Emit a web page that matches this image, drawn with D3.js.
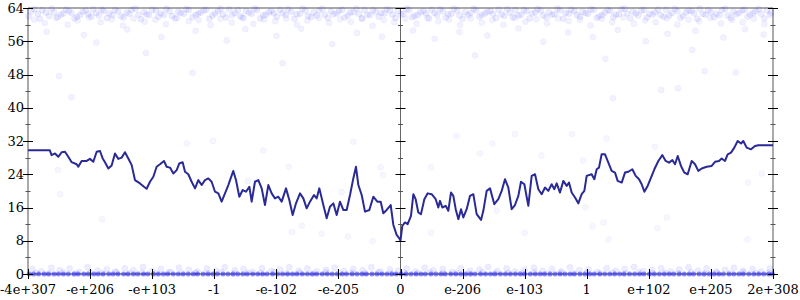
<!DOCTYPE html>
<html>
<head>
<meta charset="utf-8">
<script src="https://cdn.jsdelivr.net/npm/d3@7/dist/d3.min.js"></script>
<style>
body { margin: 0; background: #fff; }
text { font-family: "DejaVu Serif", "Liberation Serif", serif; font-size: 13px; fill: #000; }
</style>
</head>
<body>
<svg class="chart" width="800" height="300"></svg>
<script>
// x positions are in "tick units": -6 .. 6, one unit per labelled tick
var xTickLabels = ["-4e+307", "-e+206", "-e+103", "-1", "-e-102", "-e-205", "0",
  "e-206", "e-103", "1", "e+102", "e+205", "2e+308"];
var yTicks = [0, 8, 16, 24, 32, 40, 48, 56, 64];
var yMinorTicks = [4, 12, 20, 28, 36, 44, 52, 60];

// running mean line, negative side
var lineLeft = [[-6,29.8],[-5.65,29.8],[-5.62,28.6],[-5.565,29],[-5.512,28.2],[-5.458,29.3],[-5.404,29.4],[-5.351,28.2],[-5.297,26.9],[-5.216,26.4],[-5.19,25.8],[-5.136,27.2],[-5.055,27.2],[-5.002,27.7],[-4.948,27],[-4.894,29.4],[-4.84,29.6],[-4.797,27.8],[-4.76,26.9],[-4.706,25.4],[-4.653,26.1],[-4.599,29],[-4.545,27.7],[-4.491,28],[-4.438,29.3],[-4.384,27.8],[-4.33,26.2],[-4.277,22.6],[-4.196,21.8],[-4.132,21],[-4.089,20.5],[-4.035,22.2],[-3.981,23.4],[-3.928,25.8],[-3.874,26.4],[-3.81,27.2],[-3.767,25.8],[-3.713,25.6],[-3.659,24.2],[-3.605,25],[-3.563,26.6],[-3.509,26.9],[-3.471,24.6],[-3.418,24],[-3.364,22.2],[-3.31,20.6],[-3.257,22.6],[-3.203,21.4],[-3.149,22.6],[-3.095,23],[-3.042,22.2],[-2.988,19.8],[-2.934,19.4],[-2.881,17.4],[-2.827,19.4],[-2.773,21.4],[-2.736,23],[-2.693,24.8],[-2.65,22.6],[-2.596,18.6],[-2.542,20.2],[-2.489,19.8],[-2.435,21],[-2.397,17.4],[-2.344,22.2],[-2.29,22.6],[-2.236,20.6],[-2.183,16.6],[-2.129,21.4],[-2.075,19.4],[-2.022,18.2],[-1.968,18.6],[-1.914,17.4],[-1.844,20.6],[-1.791,17.8],[-1.737,14.2],[-1.683,17],[-1.619,19.4],[-1.565,18.2],[-1.511,15.8],[-1.458,17.4],[-1.393,19],[-1.35,18.2],[-1.307,20.6],[-1.243,16.6],[-1.189,13.4],[-1.136,16.2],[-1.082,17],[-1.028,14.2],[-0.975,17.4],[-0.921,15.4],[-0.867,15.4],[-0.813,19],[-0.76,23],[-0.717,25.8],[-0.679,21.4],[-0.625,19],[-0.572,15],[-0.502,15.4],[-0.438,18.6],[-0.373,17.4],[-0.319,17.4],[-0.277,14.6],[-0.223,15.4],[-0.158,16.6],[-0.115,11.8],[-0.062,9.4],[-0.019,8.6],[0,8]];

// running mean line, positive side
var lineRight = [[0.029,11.6],[0.072,12.4],[0.115,12],[0.169,14],[0.207,19.2],[0.244,18],[0.287,14.8],[0.33,14.4],[0.384,18],[0.438,19.4],[0.502,19.2],[0.567,18],[0.609,16],[0.636,17.6],[0.674,16],[0.728,16.4],[0.77,15.2],[0.813,19.6],[0.851,18.8],[0.889,15.6],[0.932,13.2],[0.975,15.6],[1.012,13.6],[1.066,15.6],[1.12,18.8],[1.173,19.2],[1.227,14.4],[1.297,13],[1.334,15.2],[1.388,20],[1.442,20.6],[1.511,16.8],[1.576,18],[1.63,20],[1.683,22.8],[1.737,20.8],[1.791,15.6],[1.844,16.6],[1.898,18.8],[1.941,22.2],[1.995,21.6],[2.059,16.4],[2.113,23.6],[2.167,24],[2.22,20.4],[2.274,19.2],[2.328,20.8],[2.381,20],[2.435,21.6],[2.478,20.4],[2.516,21.8],[2.569,19.6],[2.623,22.4],[2.677,21.2],[2.714,22],[2.757,19.6],[2.811,18.4],[2.864,17],[2.918,19.2],[2.961,20],[2.999,23.6],[3.079,24],[3.122,22.8],[3.16,25.2],[3.197,25.6],[3.24,28.8],[3.294,28.8],[3.348,26.8],[3.401,24.8],[3.455,24.4],[3.498,22.4],[3.563,22],[3.616,24.4],[3.67,24.6],[3.734,25.2],[3.788,23.6],[3.842,22.8],[3.885,21.6],[3.928,19.8],[3.981,21.2],[4.035,23.2],[4.089,25.2],[4.153,27.2],[4.218,28.6],[4.271,27.2],[4.325,26.8],[4.379,27.4],[4.422,26.4],[4.465,28.4],[4.518,26],[4.572,24.4],[4.626,24],[4.69,27.2],[4.744,26.4],[4.797,24.8],[4.851,25.4],[4.932,25.8],[5.012,26],[5.066,27],[5.13,27.2],[5.173,27.8],[5.227,27.2],[5.27,28.8],[5.324,29.2],[5.377,30.4],[5.431,32],[5.485,31.4],[5.522,32],[5.576,30.4],[5.646,30],[5.71,30.8],[5.764,31],[6,31]];

// samples near the top (61..64)
var topDense = [[-5.95,63.2],[-5.84,62.6],[-5.77,63.5],[-5.66,62.1],[-5.58,63.0],[-5.47,62.4],[-5.39,63.6],[-5.3,62.8],[-5.21,61.9],[-5.12,63.1],[-5.03,62.5],[-4.95,63.7],[-4.86,62.2],[-4.78,63.3],[-4.69,62.7],[-4.6,63.5],[-4.5,62.0],[-4.41,62.9],[-4.33,63.6],[-4.22,62.4],[-4.13,63.0],[-4.05,62.3],[-3.94,63.4],[-3.86,62.7],[-3.77,63.8],[-3.68,62.1],[-3.58,63.1],[-3.49,62.6],[-3.41,63.5],[-3.3,62.3],[-3.22,62.9],[-3.13,63.6],[-3.03,62.2],[-2.94,63.2],[-2.86,62.5],[-2.76,63.7],[-2.67,62.8],[-2.58,62.0],[-2.49,63.3],[-2.4,62.6],[-2.31,63.5],[-2.21,62.2],[-2.12,63.0],[-2.04,62.7],[-1.94,63.6],[-1.85,62.3],[-1.76,63.1],[-1.67,62.5],[-1.58,63.8],[-1.49,62.1],[-1.4,62.9],[-1.31,63.4],[-1.22,62.4],[-1.12,63.2],[-1.03,62.7],[-0.94,63.6],[-0.85,62.2],[-0.76,63.0],[-0.67,62.6],[-0.58,63.5],[-0.49,62.3],[-0.4,63.1],[-0.31,62.8],[-0.22,63.7],[-0.13,62.4],[-0.04,63.2],[0.05,62.6],[0.14,63.5],[0.23,62.1],[0.32,63.0],[0.41,62.7],[0.5,63.6],[0.59,62.3],[0.68,63.2],[0.77,62.5],[0.86,63.8],[0.95,62.2],[1.04,63.0],[1.13,62.8],[1.22,63.4],[1.31,62.3],[1.4,63.1],[1.49,62.6],[1.58,63.6],[1.67,62.1],[1.76,62.9],[1.85,63.5],[1.94,62.4],[2.03,63.2],[2.12,62.7],[2.21,63.7],[2.3,62.2],[2.39,63.0],[2.48,62.5],[2.57,63.4],[2.66,62.8],[2.75,63.6],[2.84,62.3],[2.93,63.1],[3.02,62.6],[3.11,63.5],[3.2,62.0],[3.29,62.9],[3.38,63.3],[3.47,62.4],[3.56,63.7],[3.65,62.7],[3.74,63.1],[3.83,62.2],[3.92,63.5],[4.01,62.6],[4.1,63.0],[4.19,62.3],[4.28,63.6],[4.37,62.8],[4.46,63.2],[4.55,62.1],[4.64,63.4],[4.73,62.7],[4.82,63.8],[4.91,62.4],[5.0,63.0],[5.09,62.6],[5.18,63.5],[5.27,62.2],[5.36,63.1],[5.45,62.8],[5.54,63.6],[5.63,62.4],[5.72,63.2],[5.81,62.6],[5.9,63.4],[5.97,62.9],
  [-5.99,62.0],[-5.9,63.7],[-5.81,61.4],[-5.71,62.9],[-5.62,63.8],[-5.52,61.8],[-5.43,62.7],[-5.34,63.3],[-5.25,61.5],[-5.16,62.4],[-5.07,63.4],[-4.98,61.9],[-4.9,62.8],[-4.81,63.6],[-4.73,61.6],[-4.64,62.3],[-4.55,63.2],[-4.46,61.7],[-4.37,62.6],[-4.27,63.8],[-4.18,61.3],[-4.09,62.5],[-4.0,63.6],[-3.9,61.9],[-3.81,62.4],[-3.72,63.3],[-3.63,61.5],[-3.54,62.8],[-3.45,63.7],[-3.35,61.8],[-3.26,62.6],[-3.17,63.4],[-3.08,61.4],[-2.99,62.7],[-2.9,63.8],[-2.81,61.7],[-2.71,62.3],[-2.62,63.5],[-2.53,61.6],[-2.44,62.9],[-2.35,63.8],[-2.26,61.5],[-2.17,62.4],[-2.08,63.3],[-1.99,61.9],[-1.9,62.8],[-1.81,63.7],[-1.71,61.4],[-1.62,62.6],[-1.53,63.4],[-1.44,61.8],[-1.35,62.2],[-1.26,63.8],[-1.17,61.6],[-1.08,62.5],[-0.99,63.3],[-0.9,61.7],[-0.81,62.9],[-0.71,63.8],[-0.62,61.5],[-0.53,62.4],[-0.44,63.5],[-0.35,61.9],[-0.26,62.7],[-0.17,63.4],[-0.08,61.6],[0.01,62.5],[0.1,63.8],[0.19,61.8],[0.28,62.4],[0.37,63.3],[0.46,61.5],[0.55,62.8],[0.64,63.7],[0.73,61.7],[0.82,62.6],[0.91,63.4],[1.0,61.4],[1.09,62.3],[1.18,63.8],[1.27,61.9],[1.36,62.7],[1.45,63.3],[1.54,61.6],[1.63,62.5],[1.72,63.7],[1.81,61.8],[1.9,62.2],[1.99,63.5],[2.08,61.5],[2.17,62.9],[2.26,63.4],[2.35,61.7],[2.44,62.4],[2.53,63.8],[2.62,61.4],[2.71,62.6],[2.8,63.3],[2.89,61.9],[2.98,62.8],[3.07,63.7],[3.16,61.6],[3.25,62.3],[3.34,63.5],[3.43,61.8],[3.52,62.5],[3.61,63.8],[3.7,61.5],[3.79,62.7],[3.88,63.4],[3.97,61.7],[4.06,62.4],[4.15,63.6],[4.24,61.9],[4.33,62.2],[4.42,63.8],[4.51,61.6],[4.6,62.9],[4.69,63.3],[4.78,61.4],[4.87,62.6],[4.96,63.5],[5.05,61.8],[5.14,62.3],[5.23,63.8],[5.32,61.6],[5.41,62.5],[5.5,63.4],[5.59,61.9],[5.68,62.8],[5.77,63.7],[5.86,61.5],[5.95,62.4]];

// looser samples below the top band
var topSpread = [[-5.9,61.2],[-5.73,60.4],[-5.55,61.6],[-5.36,60.0],[-5.2,61.0],[-5.02,61.7],[-4.83,60.6],[-4.65,61.3],[-4.47,59.8],[-4.3,61.5],[-4.12,60.7],[-3.95,61.2],[-3.78,60.1],[-3.6,61.6],[-3.41,60.8],[-3.25,61.1],[-3.06,59.9],[-2.9,61.4],[-2.72,60.5],[-2.55,61.7],[-2.37,60.2],[-2.2,61.2],[-2.02,60.8],[-1.84,61.5],[-1.67,60.0],[-1.5,61.0],[-1.32,61.6],[-1.15,60.4],[-0.97,61.3],[-0.8,60.7],[-0.62,61.5],[-0.45,59.7],[-0.27,61.1],[-0.1,60.6],[0.08,61.4],[0.26,60.2],[0.43,61.6],[0.61,60.8],[0.78,61.2],[0.96,59.9],[1.13,61.5],[1.31,60.5],[1.48,61.1],[1.66,60.0],[1.84,61.6],[2.01,60.7],[2.19,61.3],[2.36,60.3],[2.54,61.5],[2.71,60.9],[2.89,61.2],[3.06,59.8],[3.24,61.4],[3.41,60.6],[3.59,61.7],[3.76,60.2],[3.94,61.0],[4.11,60.6],[4.29,61.5],[4.46,60.0],[4.64,61.2],[4.81,60.8],[4.99,61.6],[5.16,60.3],[5.34,61.1],[5.51,60.6],[5.69,61.4],[5.86,60.1],
  [-5.7,58.3],[-5.1,57.5],[-4.9,55.7],[-4.4,58.8],[-3.85,57.0],[-3.3,58.5],[-2.8,56.2],[-2.5,58.9],[-2.0,57.3],[-1.6,59.0],[-1.1,55.3],[-0.7,58.0],[-0.3,57.1],[0.2,58.6],[0.55,56.6],[0.95,58.2],[1.4,57.4],[1.9,59.1],[2.3,55.9],[2.7,58.1],[3.1,57.0],[3.5,58.7],[3.95,56.0],[4.3,57.8],[4.75,58.5],[5.2,56.9],[5.55,58.9],[5.85,57.6],[-4.1,53.2],[1.2,52.6],[3.3,51.8],[-1.9,50.7],[4.7,53.9],[-5.5,47.6],[5.4,48.5],
  [-5.3,42.5],[-3.35,48.4],[4.9,48.8],[4.2,44.3],[4.47,44.7],[3.42,42.3]];

// stray samples in the middle of the range
var midPts = [[-5.48,19.2],[-5.52,25],[-4.81,13.2],[-3.44,31.4],[-3.02,32],[-2.21,29.7],[-1.8,25.8],[-2.46,22.4],[-0.76,31.8],[-0.32,25.7],[-0.28,23.8],[-0.95,19.7],[-1.59,11.6],[-1.75,10.1],[-1.27,9.7],[-0.85,9],[-0.45,7.9],
  [0.9,33.2],[1.48,31.4],[1.84,33.7],[2.76,33.7],[3.32,32.6],[1.28,29],[2.27,28.5],[0.49,25.7],[2.94,27.3],[4.1,30.6],[5.82,24.2],[5.6,22],[1.55,15.2],[2.98,16],[3.27,12.4],[3.09,11.5],[4.29,13.6],[4.14,11],[3.35,8.3],[2.0,9.9],[0.49,9.9],[5.59,8.3]];

// samples just above zero
var lowPts = [[-5.93,1.2],[-5.78,0.6],[-5.62,1.5],[-5.49,0.9],[-5.33,1.3],[-5.18,0.5],[-5.04,1.6],[-4.88,0.8],[-4.73,1.1],[-4.6,0.6],[-4.44,1.4],[-4.3,0.9],[-4.15,1.7],[-4.0,0.7],[-3.86,1.2],[-3.7,0.5],[-3.57,1.5],[-3.41,1.0],[-3.27,0.6],[-3.12,1.3],[-2.97,0.8],[-2.83,1.6],[-2.67,0.9],[-2.53,1.2],[-2.38,0.5],[-2.23,1.4],[-2.08,0.7],[-1.94,1.1],[-1.79,1.6],[-1.64,0.8],[-1.5,1.3],[-1.35,0.6],[-1.2,1.0],[-1.06,1.5],[-0.91,0.7],[-0.76,1.2],[-0.61,0.9],[-0.47,1.6],[-0.32,0.6],[-0.17,1.1],[-0.04,0.8],[0.1,1.3],[0.24,0.6],[0.39,1.5],[0.53,0.9],[0.68,1.2],[0.83,0.5],[0.97,1.4],[1.12,0.8],[1.27,1.1],[1.41,1.7],[1.56,0.7],[1.71,1.3],[1.85,0.6],[2.0,1.0],[2.15,1.5],[2.29,0.8],[2.44,1.2],[2.59,0.6],[2.73,1.6],[2.88,0.9],[3.03,1.1],[3.17,0.5],[3.32,1.4],[3.47,0.8],[3.61,1.2],[3.76,1.7],[3.91,0.7],[4.05,1.0],[4.2,1.4],[4.35,0.6],[4.49,1.1],[4.64,1.6],[4.79,0.8],[4.93,1.3],[5.08,0.6],[5.23,1.0],[5.37,1.5],[5.52,0.8],[5.67,1.2],[5.81,0.6],[5.95,1.3],
  [-5.86,0.3],[-5.66,0.2],[-5.43,0.4],[-5.24,0.1],[-5.0,0.3],[-4.8,0.2],[-4.57,0.4],[-4.37,0.2],[-4.16,0.3],[-3.94,0.1],[-3.74,0.4],[-3.52,0.2],[-3.3,0.3],[-3.1,0.2],[-2.88,0.4],[-2.68,0.1],[-2.46,0.3],[-2.25,0.2],[-2.04,0.4],[-1.83,0.2],[-1.62,0.3],[-1.42,0.1],[-1.2,0.4],[-0.99,0.2],[-0.78,0.3],[-0.57,0.2],[-0.36,0.4],[-0.15,0.1],[0.06,0.3],[0.27,0.2],[0.48,0.4],[0.69,0.2],[0.9,0.3],[1.11,0.1],[1.32,0.4],[1.53,0.2],[1.74,0.3],[1.95,0.2],[2.16,0.4],[2.37,0.1],[2.58,0.3],[2.79,0.2],[3.0,0.4],[3.21,0.2],[3.42,0.3],[3.63,0.1],[3.84,0.4],[4.05,0.2],[4.26,0.3],[4.47,0.2],[4.68,0.4],[4.89,0.1],[5.1,0.3],[5.31,0.2],[5.52,0.4],[5.73,0.2],[5.93,0.3]];

// samples that are exactly zero (x only)
var zeroX = [-5.98,-5.91,-5.83,-5.74,-5.67,-5.58,-5.51,-5.43,-5.35,-5.26,-5.19,-5.1,-5.03,-4.94,-4.87,-4.79,-4.7,-4.63,-4.55,-4.46,-4.39,-4.3,-4.23,-4.14,-4.07,-3.98,-3.9,-3.82,-3.75,-3.66,-3.58,-3.5,-3.42,-3.34,-3.27,-3.18,-3.1,-3.02,-2.95,-2.86,-2.78,-2.7,-2.62,-2.54,-2.47,-2.38,-2.3,-2.22,-2.15,-2.06,-1.98,-1.9,-1.82,-1.74,-1.67,-1.58,-1.5,-1.42,-1.35,-1.26,-1.18,-1.1,-1.02,-0.94,-0.87,-0.78,-0.7,-0.62,-0.55,-0.46,-0.38,-0.3,-0.22,-0.14,-0.07,0.01,0.09,0.17,0.25,0.33,0.4,0.49,0.57,0.65,0.72,0.81,0.89,0.97,1.05,1.13,1.2,1.29,1.37,1.45,1.52,1.61,1.69,1.77,1.85,1.93,2.0,2.09,2.17,2.25,2.32,2.41,2.49,2.57,2.65,2.73,2.8,2.89,2.97,3.05,3.12,3.21,3.29,3.37,3.45,3.53,3.6,3.69,3.77,3.85,3.92,4.01,4.09,4.17,4.25,4.33,4.4,4.49,4.57,4.65,4.72,4.81,4.89,4.97,5.05,5.13,5.2,5.29,5.37,5.45,5.52,5.61,5.69,5.77,5.85,5.93,5.99];

var svg = d3.select('.chart');
var x = d3.scaleLinear().domain([-6, 6]).range([28, 773]);
var y = d3.scaleLinear().domain([0, 64]).range([274, 8]);

// frame: grey left / right / top / bottom
var frame = svg.append('g').attr('class', 'frame')
  .attr('stroke', '#aaa').attr('stroke-width', 2);
frame.append('line').attr('x1', x(-6)).attr('x2', x(6)).attr('y1', y(64)).attr('y2', y(64));
frame.append('line').attr('x1', x(-6)).attr('x2', x(6)).attr('y1', y(0)).attr('y2', y(0));
frame.append('line').attr('x1', x(-6)).attr('x2', x(-6)).attr('y1', y(0)).attr('y2', y(64));
frame.append('line').attr('x1', x(6)).attr('x2', x(6)).attr('y1', y(0)).attr('y2', y(64));

// centre axis at zero
svg.append('line').attr('x1', x(0)).attr('x2', x(0)).attr('y1', y(0)).attr('y2', y(64))
  .attr('stroke', '#666').attr('stroke-width', 1);

// scatter
var dots = svg.append('g').attr('class', 'dots');
function drawDots(data, r, fo, so) {
  dots.append('g').selectAll('circle')
    .data(data).enter().append('circle')
    .attr('cx', function(d) { return x(d[0]); })
    .attr('cy', function(d) { return y(d[1]); })
    .attr('r', r)
    .attr('fill', '#00f').attr('fill-opacity', fo)
    .attr('stroke', so ? '#00f' : 'none').attr('stroke-opacity', so);
}
drawDots(topDense, 3, 0.07, 0.05);
drawDots(topSpread, 3, 0.05, 0.04);
drawDots(midPts, 3, 0.035, 0.03);
drawDots(lowPts, 3, 0.07, 0.05);
drawDots(zeroX.map(function(v) { return [v, 0]; }), 2.5, 0.45, 0);

// mean line
var line = d3.line()
  .x(function(d) { return x(d[0]); })
  .y(function(d) { return y(d[1]); });
svg.append('path').datum(lineLeft.concat(lineRight))
  .attr('d', line)
  .attr('fill', 'none')
  .attr('stroke', '#2a2a96')
  .attr('stroke-width', 2)
  .attr('stroke-linejoin', 'round');

// ticks on the three vertical axes
var ticks = svg.append('g').attr('class', 'ticks').attr('stroke', '#000').attr('stroke-width', 1);
[-6, 0, 6].forEach(function(a) {
  yTicks.forEach(function(t) {
    ticks.append('line').attr('x1', x(a) - 5).attr('x2', x(a) + 5)
      .attr('y1', Math.round(y(t)) + 0.5).attr('y2', Math.round(y(t)) + 0.5);
  });
  yMinorTicks.forEach(function(t) {
    ticks.append('line').attr('x1', x(a) - 2.5).attr('x2', x(a) + 2.5)
      .attr('y1', Math.round(y(t)) + 0.5).attr('y2', Math.round(y(t)) + 0.5)
      .attr('stroke', '#555');
  });
});
xTickLabels.forEach(function(l, i) {
  var u = i - 6;
  ticks.append('line').attr('x1', Math.round(x(u)) + 0.5).attr('x2', Math.round(x(u)) + 0.5)
    .attr('y1', y(0) - 5).attr('y2', y(0) + 5);
});

// labels
svg.append('g').selectAll('text').data(yTicks).enter().append('text')
  .attr('x', 24).attr('y', function(d) { return y(d); })
  .attr('dy', '0.35em').attr('text-anchor', 'end')
  .text(function(d) { return d; });
svg.append('g').selectAll('text').data(xTickLabels).enter().append('text')
  .attr('x', function(d, i) { return x(i - 6); }).attr('y', 294)
  .attr('text-anchor', 'middle')
  .text(function(d) { return d; });
</script>
</body>
</html>
